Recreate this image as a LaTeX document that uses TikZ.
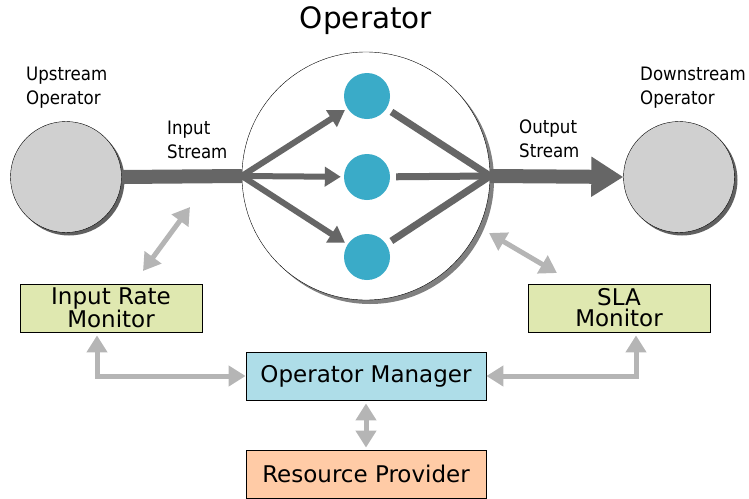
\documentclass[tikz,border=0pt]{standalone}
\usepackage{fontspec}
\setmainfont{DejaVu Sans}
\newfontfamily\narrowfont[FakeStretch=0.9]{DejaVu Sans}
\usetikzlibrary{arrows.meta,positioning}

\definecolor{streamgray}{HTML}{666666}
\definecolor{ctrlgray}{HTML}{B5B5B5}
\definecolor{taskblue}{HTML}{3AABC8}
\definecolor{opgray}{HTML}{D0D0D0}
\definecolor{monitorgreen}{HTML}{DFE8B0}
\definecolor{managerblue}{HTML}{AEDDE8}
\definecolor{providerpeach}{HTML}{FFCBA6}

\tikzset{
  nbcircle/.style={circle,draw=black,fill=opgray,minimum size=111pt,inner sep=0pt},
  task/.style={circle,fill=taskblue,minimum size=46pt,inner sep=0pt},
  flow/.style={draw=streamgray,line width=6pt},
  ctrl/.style={draw=ctrlgray,line width=5pt,
    {Triangle[length=17pt,width=20pt]}-{Triangle[length=17pt,width=20pt]}},
  compbox/.style={draw=black,line width=0.8pt,minimum height=48pt,inner sep=0pt,
    align=center,font=\fontsize{23}{21}\selectfont},
  tag/.style={anchor=west,align=left,inner sep=0pt,
    font=\narrowfont\fontsize{18.5}{24}\selectfont}
}

\begin{document}
\begin{tikzpicture}[x=1pt,y=-1pt]
        \useasboundingbox (0,0) rectangle (749,498);
        % operators
        \fill[gray!75!black] (69,180) circle (55.5pt);
        \node[nbcircle] (up) at (66,177) {};
        \fill[gray!75!black] (682,180) circle (55.5pt);
        \node[nbcircle] (down) at (679,177) {};
        \fill[gray] (370,180) circle (124pt);
        \node[circle,draw=black,fill=white,minimum size=248pt,inner sep=0pt] (op) at (366,176) {};
        \node[font=\fontsize{29.5}{30}\selectfont] (title) at (366,21) {Operator};
        % parallel tasks
        \node[task] (t1) at (367,96) {};
        \node[task] (t2) at (367,177) {};
        \node[task] (t3) at (367,257) {};
        % streams
        \draw[streamgray,line width=14pt] (up.east) -- (op.west);
        \foreach \t in {t1,t2,t3}{
          \draw[flow,-{Triangle[length=16pt,width=19pt]},shorten >=3pt] (op.west) -- (\t);
          \draw[flow,line width=7pt,shorten <=6pt] (\t) -- (op.east);
        }
        \draw[streamgray,line width=14pt,-{Triangle[length=32pt,width=38pt]}] (op.east) -- (down.west);
        % labels
        \node[tag] (uplbl) at (26,88) {Upstream\\Operator};
        \node[tag] (downlbl) at (640,88) {Downstream\\Operator};
        \node[tag] (inlbl) at (167,140) {Input\\Stream};
        \node[tag] (outlbl) at (519,139) {Output\\Stream};
        % control components
        \node[compbox,fill=monitorgreen,minimum width=182pt] (irm) at (111,308) {Input Rate\\Monitor};
        \node[compbox,fill=monitorgreen,minimum width=182pt] (sla) at (619,308) {SLA\\Monitor};
        \node[compbox,fill=managerblue,minimum width=240pt] (mgr) at (366,376) {Operator Manager};
        \node[compbox,fill=providerpeach,minimum width=240pt] (rp) at (366,474) {Resource Provider};
        % control connectors
        \coordinate (irmtop) at (143,271);
        \coordinate (instream) at (190,207);
        \coordinate (slatop) at (557,273);
        \coordinate (opedge) at (489,233);
        \draw[ctrl] (irmtop) -- (instream);
        \draw[ctrl] (slatop) -- (opedge);
        \draw[ctrl,shorten <=3pt] ([xshift=-14pt]irm.south) |- (mgr.west);
        \draw[ctrl,shorten <=3pt] ([xshift=17pt]sla.south) |- (mgr.east);
        \draw[ctrl,shorten <=3pt,shorten >=2pt] (mgr.south) -- (rp.north);
      \end{tikzpicture}
\end{document}
